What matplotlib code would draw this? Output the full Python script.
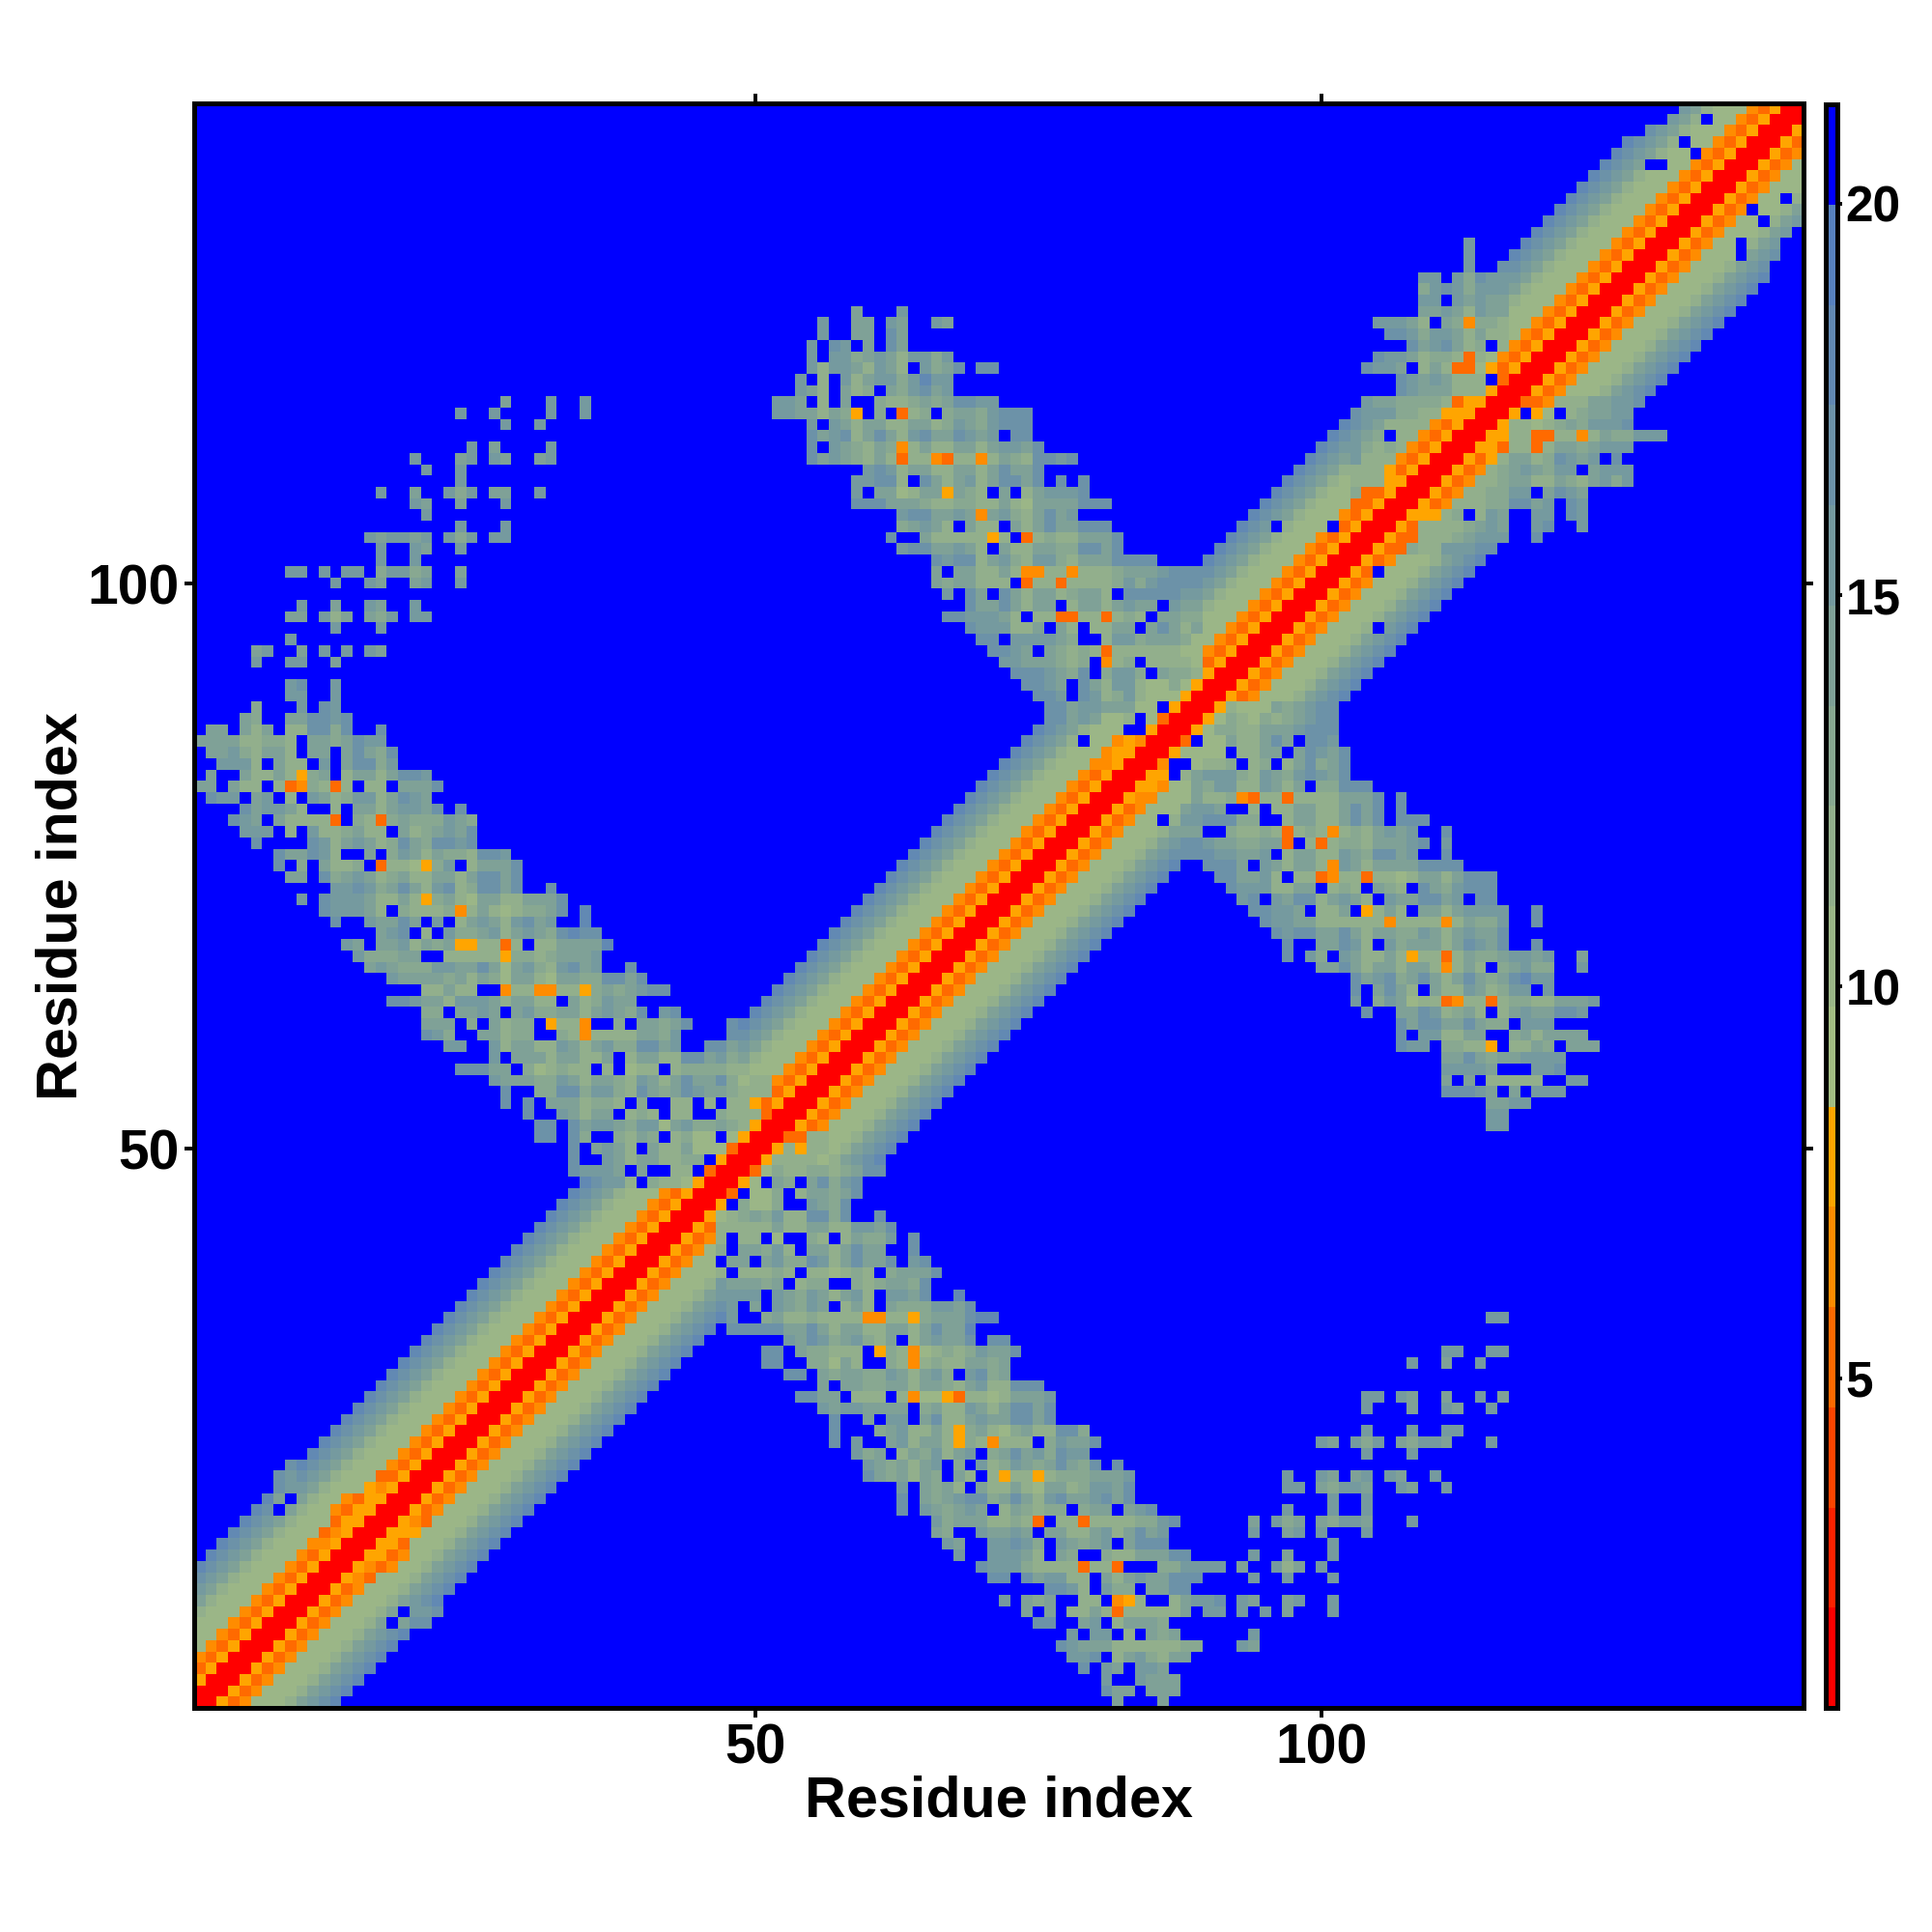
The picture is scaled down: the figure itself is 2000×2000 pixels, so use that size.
import numpy as np
import matplotlib
matplotlib.use('Agg')
import matplotlib.pyplot as plt
from matplotlib.colors import BoundaryNorm, ListedColormap

plt.rcParams['font.family'] = ['Liberation Sans', 'DejaVu Sans']
plt.rcParams['font.weight'] = 'bold'

N_RESIDUES = 142

# Distance classes, one hex digit per cell: 0-5 warm, 6-e olive to steel, f or . = blue
LEVEL_EDGES = [0.79, 2.07, 3.35, 4.63, 5.91, 7.19, 8.47, 9.75, 11.03, 12.31,
               13.59, 14.87, 16.15, 17.43, 18.71, 19.99, 21.27]
LEVEL_COLORS = ['#ff0000', '#ff2200', '#ff4500', '#ff6a00', '#ff8c00', '#ffa500',
                '#a3bd83', '#9bb687', '#92af8c', '#88a891', '#7fa197', '#759a9f',
                '#6c92a8', '#6289b3', '#5882bf', '#0000ff']

# class by distance from the diagonal, offsets 0 to 12
BAND_CODES = "005347778abcd"

# (row, first column, classes) below the diagonal; the map is symmetric
LOWER_ARM_NEAR = [
    (48, 47, "000379889989acc"), (47, 47, "0057.a9.ac9bc"), (46, 47, "03.779.8aa9ac"),
    (45, 47, "5.9779..ba9c"), (44, 47, "789a9b88cc9c..c"), (43, 47, "88888a88aa88bbac"),
    (42, 47, "8.88.7..98.8a99b.c"), (41, 47, "9.aa9b8.aa8acaa..c"), (40, 47, ".aa.ab99cb8acaac.bc"),
    (39, 47, "8.88898.887898.9aaac"), (38, 47, "baaa9a.899..989aa9c"), (37, 47, "bbbb.ba9ba8ab8.bbac..d"),
    (36, 47, "cb.a.ba9ba.8a8.a999bbac"), (35, 47, "db..9a8898888448859aaacdd"),
    (34, 47, ".cccccaaca8aa88aa8acaad"), (33, 53, "bacb9ab98a.8abaac.cc"),
    (32, 51, "cc.a99888.598478989baa"), (31, 51, "cc..997a8..9848988aa9a"),
    (30, 53, "cc.a9aa99ba8ab9.bc9a"), (29, 56, "a.aa99aa8aa98ab88"), (28, 54, "ccaa.888.8477538878"),
    (27, 56, "babbaaaa.9a88ba8a"), (26, 57, "c..a.bb.ac88abaa"), (25, 57, "c...9ab88a859a87"),
    (24, 57, "c.b..ab8aa859848"),
    (23, 59, "b9a.8a9b8a"), (22, 60, "ba9a8ab.9"), (21, 60, "ca9a8a9.a"), (20, 63, "b.a9a8"),
    (19, 63, "c.a9ab"), (18, 63, "c.ba9a"), (17, 66, "b9a"), (16, 66, "a9."), (15, 67, "ba"), (14, 68, "b"),
]
LOWER_ARM_FAR = [
    (32, 73, "c"), (29, 73, "ccc"), (28, 73, "aaab"), (27, 73, "ccac"), (26, 73, "ccac"),
    (25, 73, "9a88cc9"), (24, 73, "88.9baac"), (23, 69, "b.9acab9cbb"), (22, 69, ".b89ba9aca9c.c"),
    (21, 69, "8.858858999aaab"), (20, 69, ".a88a87aa89bbac"), (19, 69, "cc9aca8bcaabcac"),
    (18, 69, "ba.8a9899.9aa.abc"), (17, 69, "aa88983.883888899bc"), (16, 69, ".baaba.aa88ab8acab"),
    (15, 71, "bbcb9.ba9ab.accc"), (14, 71, "bbba8.a9..988aaacc"), (13, 70, "cbbb988883883...99bbbb.a"),
    (12, 71, "cc.cabb88.a8abaaccc"), (11, 76, "ccb8.b99.aacc"), (10, 72, "b.a9a..88.458..8abbc.ba"),
    (9, 74, "a.a.88a8388888a.bb.b"), (8, 75, "cc..ab.8aaa9"), (7, 78, "b.bb.8.a9a"), (7, 94, "b"),
    (6, 77, "cbaaa88888899"), (6, 93, "ba"), (5, 78, "bbc.8ab98aa"), (4, 79, "c.ba.bba"),
    (3, 81, "b..baaa"), (2, 81, "caa.aaa"), (1, 82, "a"), (1, 86, "a"),
]
SPARSE_PATCH = [
    (35, 115, "bb"), (32, 111, "bb..bb"), (31, 108, "b..a..b"), (28, 104, "bb.ba..a..b.a"),
    (27, 104, "b...a..ba..b"), (25, 104, "b...b..bb"), (24, 100, "ba.b9b.a9bba...b"),
    (23, 104, "b...b"), (21, 97, "b..ba.ab.ba..b"), (20, 97, "bb.a9bba..ba..b"), (19, 101, "b..b"),
    (18, 97, "b...b..b"), (17, 94, "a.b9a.a9bba...b"), (16, 94, "b..ab.b...b"), (15, 101, "b"),
    (14, 94, "b..a...b"), (13, 96, "b8a.b"), (12, 94, "b..b...b"), (10, 97, "ab..b"), (9, 95, "b.a...b"),
]
RIGHT_ARM = [
    (89, 88, "00058777a9abcc"), (88, 88, "0057987989abcc"), (87, 88, "0579988aaabccc"),
    (86, 88, "3.77a88aca.ccb"), (85, 88, "7777.88aa.acbac"), (84, 88, ".7889.89.8ac9ac"),
    (83, 88, "8abbb98ba9bcbac"), (82, 88, "7a9bb88ba8a.99ccc"), (81, 88, "7a889438838888aaac.c"),
    (80, 88, "abba..8.88aa88acac.c"), (79, 88, "bbccc99..8aa88acac.ccc"),
    (78, 88, "aa..9889838984898abab..c"), (77, 88, "ccbaa99aa3.838998aaabc.b"),
    (76, 88, "cccbbaab.8aa88ba9ccab..c"), (75, 90, "ccca.ba8aa84ba8aaaacccc"),
    (74, 91, "ccaab8.88348838878aa8accc"), (73, 92, "cbbb88aa.898.a98.ca9bccc"),
    (72, 93, "bc.bacc8aba8.baaccab.cc"), (71, 94, "ccbba.88a.58a8.aa8abbbb..c"),
    (70, 95, "cbbaa8888884888848a99b..c"), (69, 96, "cbccaaca8aa99ba8abaac"),
    (68, 97, "c..aacb8.b9aaa8acbac..c"), (67, 97, "c.b9.ba88a858838a99abbab..a"),
    (66, 100, "aaca8aa8aa848a8.9ab99..b"), (65, 103, "cabc9aca8aca9acdbb"),
    (64, 103, "c.aca8.a88ba89bb.b"), (63, 103, "b.9ba7883488389988aaab"),
    (62, 104, "c..aacb89a8.8abaaccb"), (61, 107, "caccaaca99.bbb"), (60, 107, "c.bb88aa..9a8aaaa"),
    (59, 107, "cbb.99885.88a9.aaa"), (58, 111, "aaca9aabbbb"), (57, 111, "bbbba...bbc"),
    (56, 111, "a.a.88888..bb"), (55, 111, "cccba.a.bbb"), (54, 115, "aabb"), (53, 115, "bb"), (52, 115, "bb"),
]
TOP_ARM = [
    (116, 118, "334888aabbc"), (115, 117, "5.57.89aabb"), (114, 116, "588789a9bbbc"),
    (113, 115, "5588338848a99bbb"), (112, 114, "5538838aa9abbb"), (111, 113, "5358aa89cbab.c."),
    (110, 112, "53489aba9bb.abbb"), (109, 111, "534889aa88a98ab9b"), (108, 110, "5348899bb.acba"),
    (107, 109, "53488899ccab.cb"), (106, 108, "55589.8ba..bb.cb"), (105, 107, "5388889aba..bc..b"),
    (104, 106, "5338889abbb..c"), (103, 105, "533988bbbcc."),
]
BAND_PATCH = [
    (101, 105, "."), (96, 105, "."), (85, 87, "5"), (84, 86, "4."), (83, 85, "55."), (82, 84, "554"),
    (81, 83, "544"), (79, 86, "."), (51, 53, "3388"), (50, 52, "58588"), (49, 51, "58888"),
    (17, 19, "543"), (16, 18, "555"), (15, 17, "553"), (14, 16, "5534"), (13, 15, "5434"),
    (12, 14, "543"), (9, 19, ".bbc"), (8, 18, ".acc"),
    (129, 137, "."), (130, 137, "."), (133, 138, "."), (132, 139, "."), (134, 141, "."),
    (128, 140, "."), (129, 141, ".."), (130, 141, ".."), (131, 142, "."),
]

TICKS = [50, 100]
CBAR_TICKS = [5, 10, 15, 20]


def level_value(code):
    level = 15 if code == '.' else int(code, 16)
    return 0.5 * (LEVEL_EDGES[level] + LEVEL_EDGES[level + 1])


# Build the symmetric matrix
dist = np.full((N_RESIDUES, N_RESIDUES), level_value('f'))
for offset, code in enumerate(BAND_CODES):
    for i in range(N_RESIDUES - offset):
        dist[i, i + offset] = dist[i + offset, i] = level_value(code)
for rows in (LOWER_ARM_NEAR, LOWER_ARM_FAR, SPARSE_PATCH, RIGHT_ARM, TOP_ARM, BAND_PATCH):
    for row, col, codes in rows:
        for k, code in enumerate(codes):
            dist[row - 1, col - 1 + k] = dist[col - 1 + k, row - 1] = level_value(code)

cmap = ListedColormap(LEVEL_COLORS)
norm = BoundaryNorm(LEVEL_EDGES, cmap.N)

fig = plt.figure(figsize=(10, 10), dpi=200, facecolor='white')
ax = fig.add_axes([201.4 / 2000, 231.7 / 2000, 1665.6 / 2000, 1661.3 / 2000])
im = ax.imshow(dist, cmap=cmap, norm=norm, origin='lower', aspect='auto',
               interpolation='nearest', extent=(0.5, 142.5, 0.5, 142.5))
ax.set_xticks(TICKS)
ax.set_yticks(TICKS)
ax.tick_params(axis='both', which='major', top=True, right=True, direction='out',
               length=3.6, width=1.4, labelsize=20.5, pad=2)
for spine in ax.spines.values():
    spine.set_linewidth(1.8)
ax.set_xlabel('Residue index', fontsize=21.4, fontweight='bold', labelpad=0)
ax.set_ylabel('Residue index', fontsize=21.4, fontweight='bold', labelpad=-0.5)

# Colour key
cax = fig.add_axes([1889.5 / 2000, 232 / 2000, 12 / 2000, 1660 / 2000])
cbar = fig.colorbar(im, cax=cax, ticks=CBAR_TICKS, spacing='proportional', drawedges=False)
cbar.outline.set_linewidth(1.8)
cax.tick_params(axis='y', which='major', length=1.8, width=1.4, labelsize=18.5, pad=1.5)
cax.minorticks_off()

plt.savefig('out.png', dpi=200, facecolor='white')
plt.close()
